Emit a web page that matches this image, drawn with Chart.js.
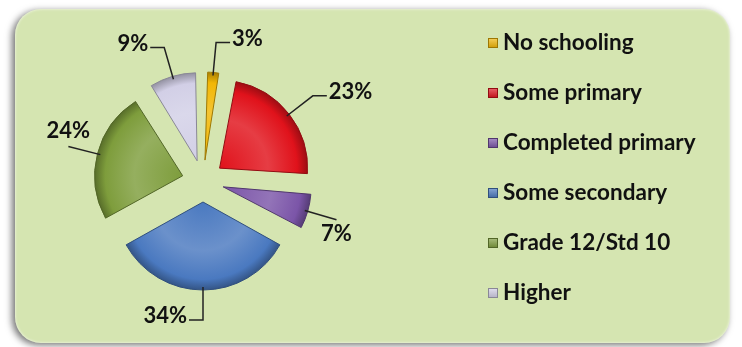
<!DOCTYPE html>
<html>
<head>
<meta charset="utf-8">
<title>Education level</title>
<script src="https://cdn.jsdelivr.net/npm/chart.js@4.4.1/dist/chart.umd.min.js"></script>
<style>
  html, body { margin: 0; padding: 0; background: #ffffff; }
  #wrap { position: relative; width: 742px; height: 347px; overflow: hidden; }
  #panel {
    position: absolute; left: 15px; top: 9px; width: 715px; height: 334px;
    border-radius: 26px; background: #d5e5b1;
    box-shadow: -3px 2px 7px rgba(0, 0, 0, 0.55), inset 0 0 3px rgba(255, 255, 255, 0.8);
  }
  #chart { position: absolute; left: 0; top: 0; }
</style>
</head>
<body>
<div id="wrap">
  <div id="panel"></div>
  <canvas id="chart" width="742" height="347"></canvas>
</div>
<script>
"use strict";

// education categories and their share of respondents (%)
const categories = ["No schooling", "Some primary", "Completed primary", "Some secondary", "Grade 12/Std 10", "Higher"];
const shares = [3, 23, 7, 34, 24, 9];

const sliceColors = ["#f2b705", "#e0121b", "#7b55a8", "#4a79c0", "#7e9d3c", "#d2cfe6"];
const pieRadius = 88;
const explode = 84; // chart.js draws offset / 4 as the actual shift
const labelFont = "bold 22px Lato";
const legendFont = "bold 22.5px Lato";

/**
 * blandar en hex-färg mot vitt (amount > 0) eller svart (amount < 0)
 */
function tint(hex, amount) {
    const n = parseInt(hex.slice(1), 16);
    const ch = [(n >> 16) & 255, (n >> 8) & 255, n & 255].map(c => {
        const t = amount > 0 ? 255 : 0;
        return Math.round(c + (t - c) * Math.abs(amount));
    });
    return "rgb(" + ch.join(",") + ")";
}

function sliceFill(context) {
    const i = context.dataIndex;
    const base = sliceColors[i];
    const area = context.chart.chartArea;
    if (!area) {
        return base;
    }
    const cx = (area.left + area.right) / 2;
    const cy = (area.top + area.bottom) / 2;
    const g = context.chart.ctx.createRadialGradient(cx, cy, 0, cx, cy, pieRadius);
    g.addColorStop(0, base);
    g.addColorStop(0.55, tint(base, 0.18));
    g.addColorStop(0.88, base);
    g.addColorStop(1, tint(base, -0.3));
    return g;
}

// chart.js grows small exploded arcs; keep every slice at the same radius
const evenRadius = {
    id: "evenRadius",
    beforeDatasetsDraw(chart) {
        chart.getDatasetMeta(0).data.forEach(arc => {
            const shift = (arc.options.offset || 0) / 4;
            const fix = 1 - Math.sin(Math.min(Math.PI, arc.circumference));
            arc.outerRadius = pieRadius - shift * fix;
        });
    }
};

// percentage labels with leader lines
const leaderLabels = {
    id: "leaderLabels",
    afterDatasetsDraw(chart) {
        const ctx = chart.ctx;
        const total = shares.reduce((a, b) => a + b, 0);
        ctx.save();
        ctx.strokeStyle = "#222222";
        ctx.lineWidth = 1.5;
        ctx.fillStyle = "#111111";
        ctx.font = labelFont;
        ctx.textBaseline = "middle";
        chart.getDatasetMeta(0).data.forEach((arc, i) => {
            const mid = (arc.startAngle + arc.endAngle) / 2;
            const dx = Math.cos(mid);
            const dy = Math.sin(mid);
            const shift = (arc.options.offset || 0) / 4;
            const cx = arc.x + dx * shift;
            const cy = arc.y + dy * shift;
            const text = Math.round(shares[i] / total * 100) + "%";
            const x0 = cx + dx * (pieRadius - 3);
            const y0 = cy + dy * (pieRadius - 3);
            const x1 = cx + dx * (pieRadius + 30);
            const y1 = cy + dy * (pieRadius + 30);
            ctx.beginPath();
            ctx.moveTo(x0, y0);
            ctx.lineTo(x1, y1);
            if (Math.abs(dy) < 0.4) {
                // sideways slices: label sits above or below the line end
                ctx.stroke();
                ctx.textAlign = "center";
                ctx.fillText(text, x1, dy < 0 ? y1 - 16 : y1 + 14);
                return;
            }
            const side = dx > 0.05 ? 1 : -1;
            const x2 = x1 + side * 14;
            ctx.lineTo(x2, y1);
            ctx.stroke();
            ctx.textAlign = side > 0 ? "left" : "right";
            ctx.fillText(text, x2 + side * 2, y1 - 4);
        });
        ctx.restore();
    }
};

// legend to the right of the pie
const sideLegend = {
    id: "sideLegend",
    afterDraw(chart) {
        const ctx = chart.ctx;
        ctx.save();
        ctx.font = legendFont;
        ctx.textBaseline = "middle";
        ctx.textAlign = "left";
        categories.forEach((name, i) => {
            const y = 43 + i * 50;
            const g = ctx.createLinearGradient(0, y - 5, 0, y + 5);
            g.addColorStop(0, tint(sliceColors[i], 0.35));
            g.addColorStop(1, tint(sliceColors[i], -0.15));
            ctx.fillStyle = g;
            ctx.fillRect(488, y - 5, 10, 10);
            ctx.strokeStyle = tint(sliceColors[i], -0.35);
            ctx.lineWidth = 1;
            ctx.strokeRect(488.5, y - 4.5, 9, 9);
            ctx.fillStyle = "#111111";
            ctx.fillText(name, 503, y);
        });
        ctx.restore();
    }
};

new Chart(document.getElementById("chart"), {
    type: "pie",
    data: {
        labels: categories,
        datasets: [{
            data: shares,
            backgroundColor: sliceFill,
            borderColor: sliceColors.map(c => tint(c, -0.35)),
            borderWidth: 1,
            offset: explode,
            radius: pieRadius
        }]
    },
    options: {
        responsive: false,
        animation: false,
        events: [],
        layout: {
            padding: { left: 0, top: 15, right: 336, bottom: 0 }
        },
        plugins: {
            legend: { display: false },
            tooltip: { enabled: false }
        }
    },
    plugins: [evenRadius, leaderLabels, sideLegend]
});
</script>
</body>
</html>
